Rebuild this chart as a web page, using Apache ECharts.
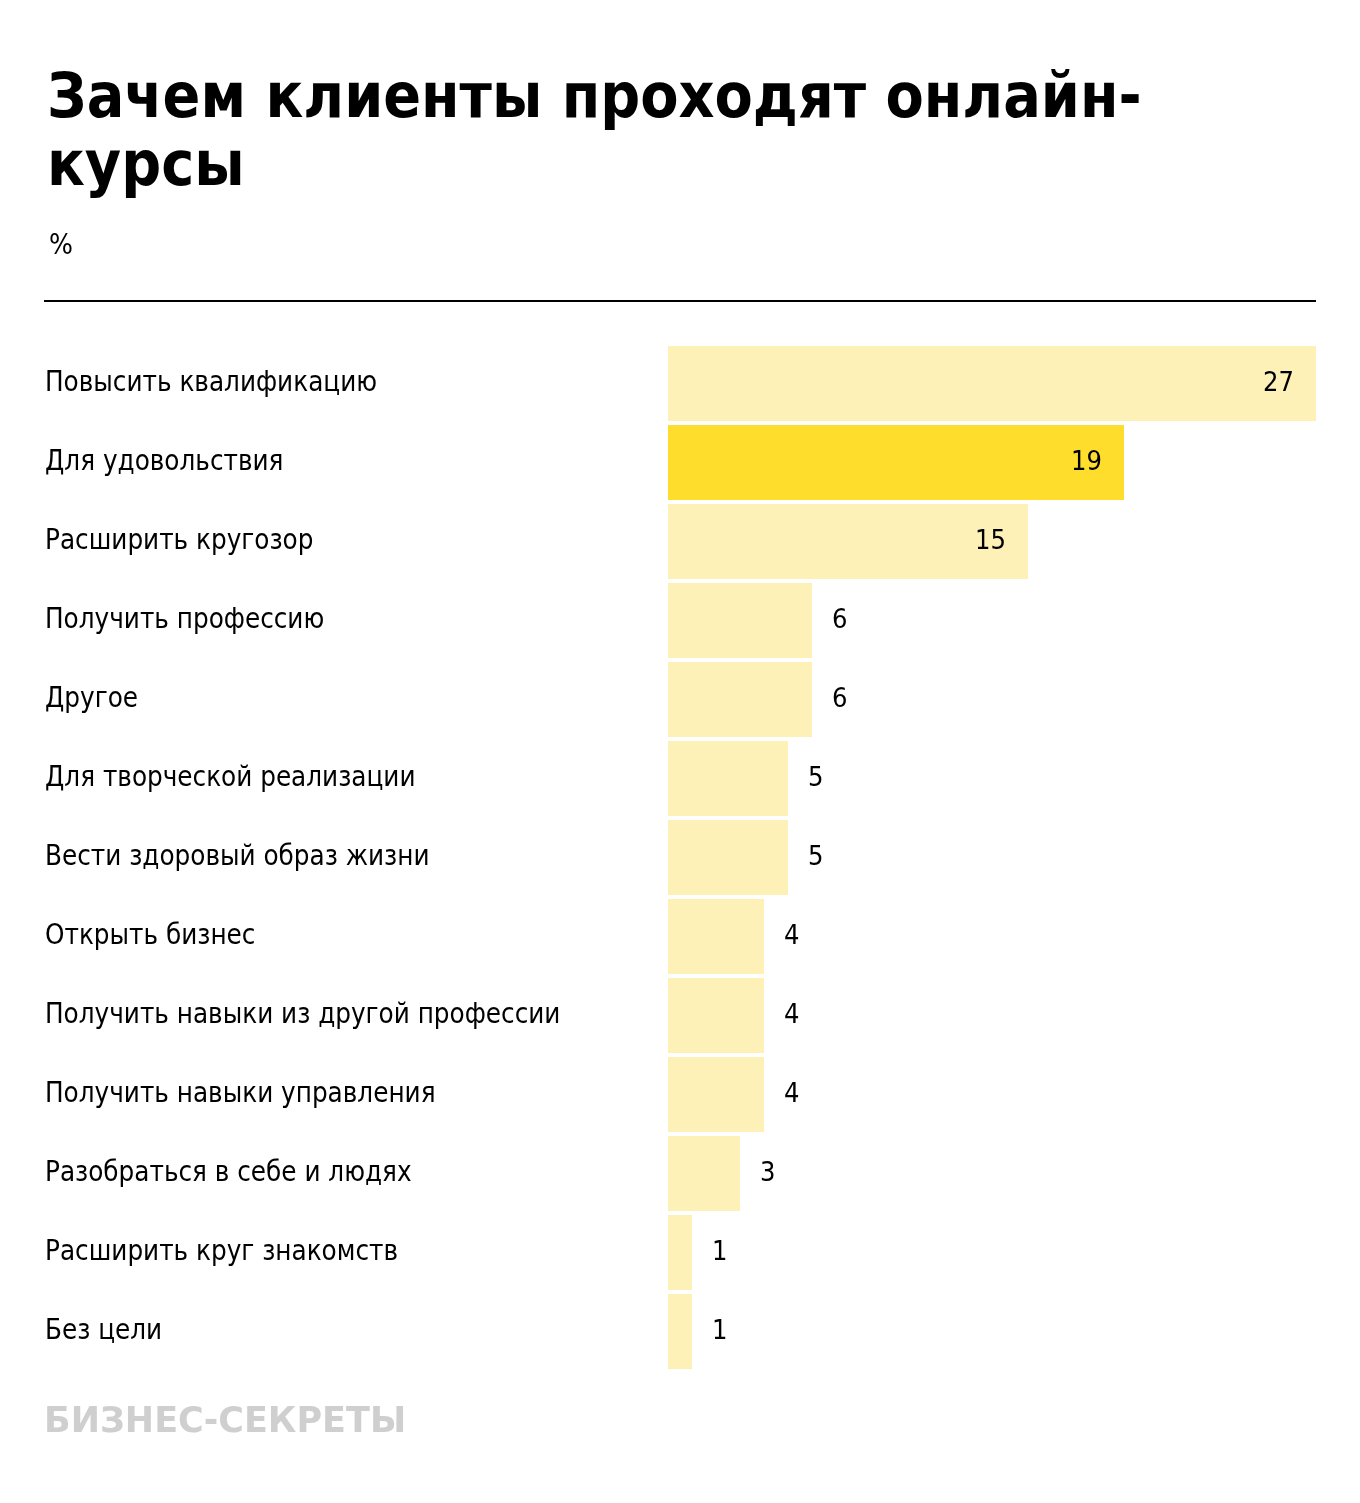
<!DOCTYPE html>
<html><head><meta charset="utf-8">
<script src="https://cdn.jsdelivr.net/npm/echarts@6/dist/echarts.min.js"></script>
<style>html,body{margin:0;padding:0;background:#fff}#c{width:1360px;height:1503px}</style>
</head><body><div id="c"></div>
<script>
const categories = ["Повысить квалификацию","Для удовольствия","Расширить кругозор","Получить профессию","Другое","Для творческой реализации","Вести здоровый образ жизни","Открыть бизнес","Получить навыки из другой профессии","Получить навыки управления","Разобраться в себе и людях","Расширить круг знакомств","Без цели"];
const values = [27,19,15,6,6,5,5,4,4,4,3,1,1];
const highlighted = ["Для удовольствия"];
const titleText = "Зачем клиенты проходят онлайн-\nкурсы";
const unitText = "%";
const brandText = "БИЗНЕС-СЕКРЕТЫ";

const FONT = '"DejaVu Sans Condensed", "Roboto", sans-serif';
const chart = echarts.init(document.getElementById('c'));
const data = values.map((v,i)=>({
  value: v,
  itemStyle: {color: highlighted.includes(categories[i]) ? '#FFDD2D' : '#FEF1B7'},
  label: v >= 10 ? {position:'insideRight', distance: 22} : {position:'right', distance: 20}
}));
chart.setOption({
  animation:false,
  title:[{text:titleText,left:42,top:62,textStyle:{fontFamily:FONT,fontWeight:'bold',fontSize:62,lineHeight:68,color:'#000'}},
         {text:unitText,left:44,top:228,textStyle:{fontFamily:FONT,fontWeight:'normal',fontSize:28,color:'#000'}}],
  graphic:[
    {type:'line',shape:{x1:44,y1:301,x2:1316,y2:301},style:{stroke:'#000',lineWidth:2}},
    {type:'text',left:44,top:1405,style:{text:brandText,fontFamily:'DejaVu Sans',fontWeight:'bold',fontSize:35,fill:'#cfcfcf'}}
  ],
  grid:{left:668,right:44,top:344,bottom:132},
  xAxis:{type:'value',min:0,max:27,show:false},
  yAxis:{type:'category',inverse:true,data:categories,axisLine:{show:false},axisTick:{show:false},
    axisLabel:{align:'left',margin:623,fontFamily:FONT,fontSize:27.5,color:'#000'}},
  series:[{type:'bar',data:data,barCategoryGap:'5%',
    label:{show:true,fontFamily:FONT,fontSize:27,color:'#000'}}]
});
</script></body></html>
